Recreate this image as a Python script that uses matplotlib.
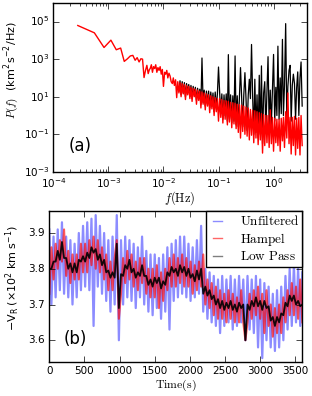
import numpy as np
import matplotlib.pyplot as plt
from matplotlib.ticker import FixedLocator, NullLocator, LogLocator, MultipleLocator
from matplotlib.lines import Line2D

# ----------------------------------------------------------------
# (a) power spectrum
# ----------------------------------------------------------------
spec_freq = [
    0.000278, 0.000556, 0.000833, 0.00111, 0.00139, 0.00167, 0.00194, 0.00222, 0.00250, 0.00278,
    0.00306, 0.00333, 0.00361, 0.00389, 0.00417, 0.00444, 0.00472, 0.00500, 0.00528, 0.00556,
    0.00575, 0.00603, 0.00631, 0.00661, 0.00692, 0.00724, 0.00759, 0.00794, 0.00832, 0.00871,
    0.00912, 0.00955,
    0.0100, 0.0105, 0.0110, 0.0115, 0.0120, 0.0126, 0.0132, 0.0138, 0.0145, 0.0151,
    0.0158, 0.0166, 0.0174, 0.0182, 0.0191, 0.0200, 0.0209, 0.0219, 0.0229, 0.0240,
    0.0251, 0.0263, 0.0275, 0.0288, 0.0302, 0.0316, 0.0331, 0.0347, 0.0363, 0.0380,
    0.0398, 0.0417, 0.0437, 0.0457, 0.0479, 0.0501, 0.0525, 0.0550, 0.0575, 0.0603,
    0.0631, 0.0661, 0.0692, 0.0724, 0.0759, 0.0794, 0.0832, 0.0871, 0.0912, 0.0955,
    0.100, 0.105, 0.110, 0.115, 0.120, 0.126, 0.132, 0.138, 0.145, 0.151,
    0.158, 0.166, 0.174, 0.182, 0.191, 0.200, 0.209, 0.219, 0.229, 0.240,
    0.251, 0.263, 0.275, 0.288, 0.302, 0.316, 0.331, 0.347, 0.363, 0.380,
    0.398, 0.417, 0.437, 0.457, 0.479, 0.501, 0.525, 0.550, 0.575, 0.603,
    0.631, 0.661, 0.692, 0.724, 0.759, 0.794, 0.832, 0.871, 0.912, 0.955,
    1.00, 1.05, 1.10, 1.15, 1.20, 1.26, 1.32, 1.38, 1.45, 1.51,
    1.58, 1.66, 1.74, 1.82, 1.91, 2.00, 2.09, 2.19, 2.29, 2.40,
    2.51, 2.63, 2.75, 2.88, 3.02, 3.16, 3.31,
]

# log10 of P(f), Hampel filtered (red)
hampel_log10P = [
    4.79, 4.40, 3.62, 4.01, 3.50, 3.59, 2.88, 3.02, 3.17, 3.20,
    2.94, 3.08, 2.85, 3.02, 3.00, 2.02, 2.40, 2.67, 2.23, 2.45,
    2.5, 2.7, 2.3, 2.6, 2.5, 2.7, 2.3, 2.55, 2.4, 2.6,
    2.2, 2.45,
    1.55, 2.3, 2.2, 2.4, 2.0, 2.25, 2.1, 1.8, 1.7, 2.0,
    1.6, 1.9, 0.95, 1.8, 1.2, 1.75, 1.0, 1.7, 1.15, 1.65,
    0.85, 1.6, 1.1, 1.55, 0.9, 1.5, 0.75, 1.45, 1.0, 1.4,
    0.6, 1.35, 0.8, 1.3, 0.4, 1.25, 0.6, 1.2, 0.3, 1.15,
    0.5, 1.1, 0.15, 1.05, 0.35, 1.0, 0.0, 0.95, 0.2, 0.9,
    -0.3, 0.9, -0.1, 0.85, -0.4, 0.8, -0.2, 0.78, -0.5, 0.75,
    -0.35, 0.7, -0.65, 0.68, -0.45, 0.65, -0.7, 0.6, -0.9, 0.58,
    -1.2, 0.55, -0.85, 0.5, -1.0, 0.45, -1.1, 0.4, -1.3, 0.32,
    -1.05, 0.28, -1.45, 0.25, -1.2, 0.2, -1.55, 0.15, -1.3, 0.1,
    -2.0, 0.05, -1.6, 0.0, -1.45, 0.0, -1.7, 0.3, -1.5, -0.1,
    -1.9, -0.15, -1.45, -0.2, -1.6, -0.2, -1.9, -0.15, -1.35, -0.1,
    -1.7, 0.2, -1.2, 1.2, -1.5, -0.1, -2.05, -0.1, -1.6, -0.05,
    -2.1, -0.15, -1.75, -0.1, -2.1, 0.0, -1.6,
]

# log10 of P(f), unfiltered (black), last part of spec_freq
unfilt_log10P = [
    1.3, 1.85, 1.1, 1.8, 1.2, 1.75, 1.0, 1.7, 1.2, 1.65,
    1.0, 1.6, 0.9, 1.55, 1.1, 1.5, 0.8, 1.45, 0.9, 1.4,
    0.6, 3.06, 0.7, 1.35, 0.5, 1.3, 0.6, 1.3, 0.4, 1.25,
    0.5, 1.2, 0.2, 1.25, 0.4, 1.15,
    2.58, 1.2, 0.1, 1.15, -0.2, 1.1, 0.0, 1.15, -0.3, 3.24,
    -0.2, 1.1, -0.4, 1.05, -0.3, 3.17, -0.5, 1.05, -0.6, 1.0,
    2.55, 1.0, -0.6, 1.1, 2.28, 0.9, -0.8, 1.1, 1.93, 0.9,
    3.78, 1.0, -1.0, 1.93, -0.9, 1.1, -1.2, 2.14, -1.0, 2.64,
    -1.5, 1.2, 1.8, -0.8, 1.3, 3.13, -0.6, 1.35, -0.5, 1.4,
    3.25, -0.3, 1.5, 0.0, 3.69, -0.2, 2.0, 0.1, 4.05, 0.0,
    1.6, 4.89, -0.2, 1.55, 2.4, 2.67, -0.3, 1.6, 2.2, 1.7,
    -0.2, 1.5, 2.32, 0.0, 2.0, 2.85, 0.5,
]

# ----------------------------------------------------------------
# (b) radial velocity time series
# ----------------------------------------------------------------
time_s = [
    0, 30, 60, 90, 120, 150, 180, 210, 240, 270,
    300, 330, 360, 390, 420, 450, 480, 510, 540, 570,
    600, 630, 660, 690, 720, 750, 780, 810, 840, 870,
    900, 930, 960, 990, 1020, 1050, 1080, 1110, 1140, 1170,
    1200, 1230, 1260, 1290, 1320, 1350, 1380, 1410, 1440, 1470,
    1500, 1530, 1560, 1590, 1620, 1650, 1680, 1710, 1740, 1770,
    1800, 1830, 1860, 1890, 1920, 1950, 1980, 2010, 2040, 2070,
    2100, 2130, 2160, 2190, 2220, 2250, 2280, 2310, 2340, 2370,
    2400, 2430, 2460, 2490, 2520, 2550, 2580, 2610, 2640, 2670,
    2700, 2730, 2760, 2790, 2820, 2850, 2880, 2910, 2940, 2970,
    3000, 3030, 3060, 3090, 3120, 3150, 3180, 3210, 3240, 3270,
    3300, 3330, 3360, 3390, 3420, 3450, 3480, 3510, 3540, 3570,
    3600,
]

vr_unfiltered = [
    3.91, 3.70, 3.89, 3.72, 3.91, 3.74, 3.93, 3.73, 3.89, 3.72,
    3.88, 3.70, 3.87, 3.72, 3.90, 3.74, 3.92, 3.75, 3.93, 3.74,
    3.94, 3.64, 3.95, 3.75, 3.92, 3.73, 3.90, 3.71, 3.88, 3.68,
    3.89, 3.70, 3.95, 3.60, 3.88, 3.70, 3.89, 3.72, 3.88, 3.71,
    3.87, 3.69, 3.86, 3.72, 3.89, 3.70, 3.85, 3.68, 3.84, 3.67,
    3.84, 3.69, 3.83, 3.66, 3.84, 3.68, 3.86, 3.63, 3.87, 3.71,
    3.88, 3.72, 3.89, 3.73, 3.89, 3.72, 3.87, 3.71, 3.86, 3.72,
    3.88, 3.73, 3.92, 3.68, 3.80, 3.66, 3.79, 3.65, 3.78, 3.64,
    3.77, 3.62, 3.78, 3.64, 3.77, 3.65, 3.78, 3.63, 3.77, 3.64,
    3.78, 3.65, 3.77, 3.60, 3.78, 3.63, 3.77, 3.62, 3.78, 3.58,
    3.77, 3.55, 3.76, 3.60, 3.75, 3.58, 3.73, 3.57, 3.74, 3.58,
    3.75, 3.60, 3.78, 3.63, 3.80, 3.64, 3.81, 3.65, 3.80, 3.64,
    3.79,
]

vr_hampel = [
    3.73, 3.86, 3.77, 3.87, 3.80, 3.88, 3.82, 3.91, 3.78, 3.85,
    3.76, 3.84, 3.77, 3.84, 3.77, 3.87, 3.79, 3.87, 3.79, 3.88,
    3.81, 3.89, 3.80, 3.88, 3.79, 3.86, 3.77, 3.84, 3.74, 3.82,
    3.74, 3.83, 3.88, 3.66, 3.73, 3.83, 3.76, 3.85, 3.77, 3.84,
    3.75, 3.82, 3.74, 3.83, 3.76, 3.83, 3.73, 3.80, 3.72, 3.80,
    3.72, 3.81, 3.69, 3.79, 3.71, 3.80, 3.74, 3.83, 3.75, 3.84,
    3.75, 3.83, 3.76, 3.84, 3.75, 3.83, 3.75, 3.82, 3.73, 3.81,
    3.74, 3.82, 3.75, 3.84, 3.70, 3.77, 3.69, 3.76, 3.67, 3.75,
    3.66, 3.74, 3.66, 3.73, 3.65, 3.74, 3.66, 3.73, 3.65, 3.72,
    3.65, 3.74, 3.65, 3.60, 3.65, 3.73, 3.66, 3.74, 3.67, 3.75,
    3.66, 3.73, 3.62, 3.74, 3.64, 3.70, 3.61, 3.69, 3.62, 3.70,
    3.62, 3.72, 3.65, 3.74, 3.67, 3.76, 3.67, 3.75, 3.66, 3.77,
    3.65,
]

vr_lowpass = [
    3.80, 3.80, 3.82, 3.82, 3.85, 3.825, 3.875, 3.83, 3.83, 3.80,
    3.815, 3.79, 3.815, 3.79, 3.825, 3.82, 3.835, 3.82, 3.845, 3.83,
    3.86, 3.845, 3.855, 3.825, 3.84, 3.81, 3.825, 3.79, 3.795, 3.775,
    3.79, 3.775, 3.87, 3.69, 3.785, 3.78, 3.81, 3.80, 3.825, 3.79,
    3.80, 3.775, 3.79, 3.78, 3.81, 3.78, 3.78, 3.755, 3.77, 3.75,
    3.775, 3.76, 3.775, 3.745, 3.765, 3.755, 3.79, 3.78, 3.805, 3.79,
    3.80, 3.78, 3.81, 3.79, 3.805, 3.78, 3.80, 3.775, 3.785, 3.765,
    3.795, 3.77, 3.80, 3.73, 3.75, 3.725, 3.74, 3.715, 3.725, 3.70,
    3.715, 3.69, 3.71, 3.685, 3.705, 3.69, 3.71, 3.685, 3.70, 3.68,
    3.705, 3.69, 3.70, 3.60, 3.70, 3.685, 3.71, 3.695, 3.72, 3.695,
    3.71, 3.685, 3.71, 3.69, 3.695, 3.655, 3.665, 3.64, 3.665, 3.65,
    3.675, 3.67, 3.705, 3.695, 3.725, 3.71, 3.725, 3.70, 3.71, 3.695,
    3.70,
]

# ----------------------------------------------------------------
plt.style.use('classic')
plt.rcParams['figure.facecolor'] = 'white'
plt.rcParams['savefig.facecolor'] = 'white'
plt.rcParams['mathtext.fontset'] = 'cm'
plt.rcParams['font.family'] = ['DejaVu Sans']
plt.rcParams['xtick.labelsize'] = 7.5
plt.rcParams['ytick.labelsize'] = 7.5
plt.rcParams['xtick.major.pad'] = 3
plt.rcParams['ytick.major.pad'] = 3

fig = plt.figure(figsize=(3.12, 3.96), dpi=100)

# ---------------------------------------------------
ax1 = fig.add_axes([0.171, 0.566, 0.812, 0.427])
freq = np.array(spec_freq)
ax1.plot(freq[-len(unfilt_log10P):], 10.0 ** np.array(unfilt_log10P), color='k', lw=0.9)
ax1.plot(freq, 10.0 ** np.array(hampel_log10P), color='r', lw=1.0)
ax1.set_xscale('log')
ax1.set_yscale('log')
ax1.set_xlim(1e-4, 4.0)
ax1.set_ylim(1e-3, 1e6)
ax1.xaxis.set_major_locator(LogLocator(base=10, numticks=10))
ax1.xaxis.set_minor_locator(LogLocator(base=10, subs=np.arange(2, 10), numticks=10))
ax1.yaxis.set_major_locator(FixedLocator([1e-3, 1e-1, 1e1, 1e3, 1e5]))
ax1.yaxis.set_minor_locator(NullLocator())
ax1.set_ylabel(r'$P(f)$  (km$^{\mathdefault{2}}$s$^{\mathdefault{-2}}$/Hz)', fontsize=8)
ax1.yaxis.set_label_coords(-0.127, 0.60)
ax1.set_xlabel(r'$f(\mathrm{Hz})$', fontsize=9)
ax1.xaxis.set_label_coords(0.5, -0.105)
ax1.text(0.059, 0.152, '(a)', transform=ax1.transAxes, fontsize=12, va='center')

# ---------------------------------------------------
ax2 = fig.add_axes([0.158, 0.0866, 0.811, 0.381])
ax2.plot(time_s, vr_unfiltered, color='b', alpha=0.45, lw=1.6)
ax2.plot(time_s, vr_hampel, color='r', alpha=0.65, lw=1.5)
ax2.plot(time_s, vr_lowpass, color='k', alpha=0.9, lw=1.3)
ax2.set_xlim(0, 3600)
ax2.set_ylim(3.54, 3.962)
ax2.xaxis.set_major_locator(MultipleLocator(500))
ax2.yaxis.set_major_locator(FixedLocator([3.6, 3.7, 3.8, 3.9]))
ax2.set_ylabel(r'$\mathdefault{-V_R\ (\times10^2\ km\ s^{-1})}$', fontsize=8)
ax2.yaxis.set_label_coords(-0.108, 0.552)
ax2.set_xlabel(r'$\mathrm{Time(s)}$', fontsize=8.5)
ax2.xaxis.set_label_coords(0.5, -0.105)
ax2.text(0.055, 0.15, '(b)', transform=ax2.transAxes, fontsize=12, va='center')

# legend swatches as they appear in the key (single, translucent strokes)
handles = [Line2D([], [], color='b', alpha=0.45, lw=1.0),
           Line2D([], [], color='r', alpha=0.6, lw=1.0),
           Line2D([], [], color='k', alpha=0.5, lw=1.0)]
labels = [r'$\mathrm{Unfiltered}$', r'$\mathrm{Hampel}$', r'$\mathrm{Low\ Pass}$']
ax2.legend(handles, labels, loc='upper right', fontsize=9.5, borderaxespad=0, borderpad=0.25,
           labelspacing=0.2, handlelength=1.3, handletextpad=1.0, fancybox=False)

fig.savefig('out.png', dpi=100)
